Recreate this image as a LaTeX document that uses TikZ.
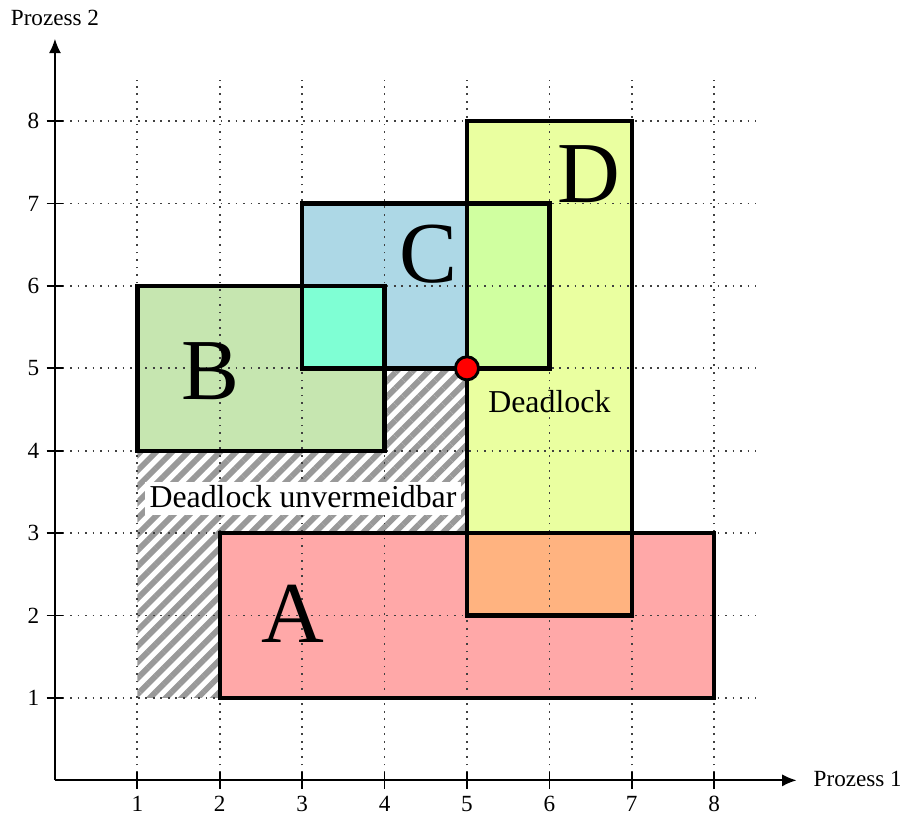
\documentclass[tikz,border=0pt]{standalone}
\usepackage{fontspec}
\setmainfont{Liberation Serif}
\usetikzlibrary{patterns.meta,arrows.meta}
\definecolor{cA}{RGB}{255,168,168}
\definecolor{cB}{RGB}{198,230,176}
\definecolor{cC}{RGB}{173,216,230}
\definecolor{cD}{RGB}{234,255,160}
\definecolor{cBC}{RGB}{127,255,212}
\definecolor{cCD}{RGB}{208,255,160}
\definecolor{cAD}{RGB}{255,179,128}
\begin{document}
\begin{tikzpicture}[x=1cm,y=1cm,
  box/.style={line width=1.5pt, draw=black},
  gridline/.style={dotted, line width=0.6pt, black!75},
  axisline/.style={line width=0.6pt, -{Latex[length=5pt,width=4.2pt]}},
  tickline/.style={line width=0.6pt},
  big/.style={font=\fontsize{30}{30}\selectfont, inner sep=0pt},
  lbl/.style={font=\fontsize{11}{13}\selectfont},
  small/.style={font=\fontsize{8}{9.5}\selectfont, inner sep=0pt},
  hatch/.style={pattern={Lines[angle=45,distance=3.9pt,line width=2pt]}, pattern color=black!40}]
\useasboundingbox (-0.667,-0.43) rectangle (10.255,9.47);
% hatched region
\fill[hatch] (1,1) rectangle (5,5);
% fills
\fill[cA] (2,1) rectangle (8,3);
\fill[cB] (1,4) rectangle (4,6);
\fill[cC] (3,5) rectangle (6,7);
\fill[cD] (5,2) rectangle (7,8);
\fill[cBC] (3,5) rectangle (4,6);
\fill[cCD] (5,5) rectangle (6,7);
\fill[cAD] (5,2) rectangle (7,3);
% grid, ticks, tick labels
\foreach \i in {1,...,8} {
  \draw[gridline] (\i,0) -- (\i,8.5);
  \draw[gridline] (0,\i) -- (8.5,\i);
  \draw[tickline] (\i,-0.1) -- (\i,0.1);
  \draw[tickline] (-0.1,\i) -- (0.1,\i);
  \node[small] (xl\i) at (\i,-0.29) {\i};
  \node[small] (yl\i) at (-0.26,\i) {\i};
}
% axes
\coordinate (O) at (0,0);
\coordinate (X) at (9,0);
\coordinate (Y) at (0,9);
\draw[axisline] (O) -- (X);
\draw[axisline] (O) -- (Y);
\node[small, anchor=base west] (p1) at (9.2,-0.08) {Prozess 1};
\node[small, anchor=base] (p2) at (0,9.16) {Prozess 2};
% outlines
\draw[box] (2,1) rectangle (8,3);
\draw[box] (1,4) rectangle (4,6);
\draw[box] (3,5) rectangle (6,7);
\draw[box] (5,2) rectangle (7,8);
% labels
\node[big] (A) at (2.89,2.02) {A};
\node[big] (B) at (1.89,4.97) {B};
\node[big] (C) at (4.53,6.39) {C};
\node[big] (D) at (6.48,7.36) {D};
\node[lbl] (dlab) at (6.0,4.6) {Deadlock};
\node[lbl, fill=white, inner xsep=1.5pt, inner ysep=1pt, text depth=1.5pt] (unv) at (3.01,3.42) {Deadlock unvermeidbar};
\node[circle, fill=red, draw=black, line width=1pt, minimum size=0.28cm, inner sep=0pt] (dl) at (5,5) {};
\end{tikzpicture}
\end{document}
